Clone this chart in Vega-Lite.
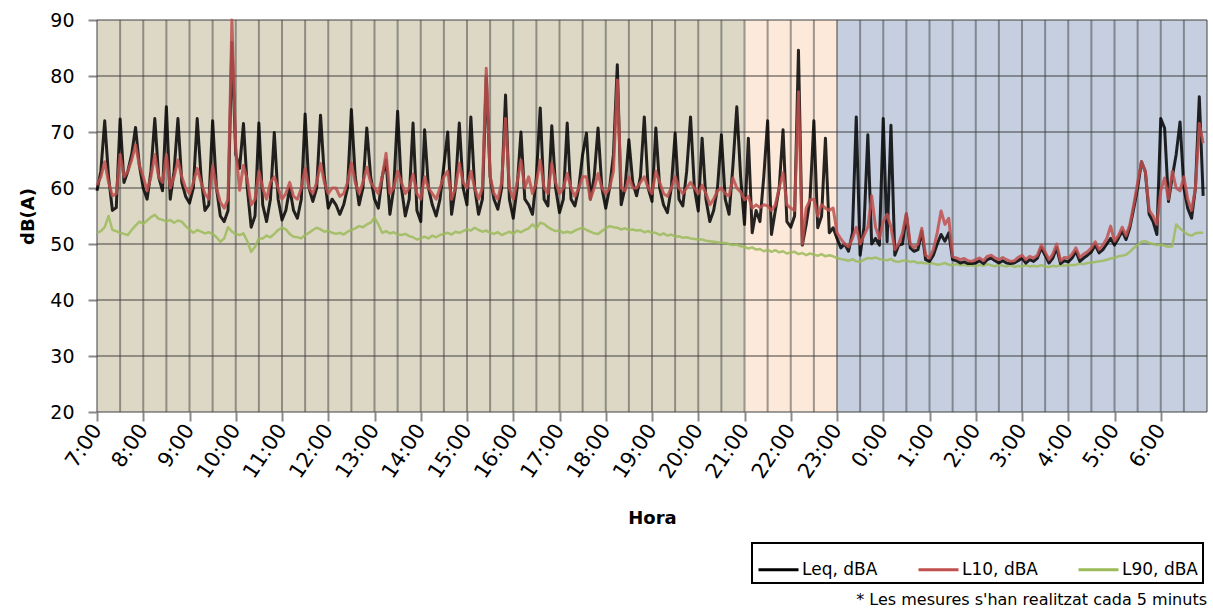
{
"$schema": "https://vega.github.io/schema/vega-lite/v6.json",
"width": 1110, "height": 392,
"autosize": {"type": "none"},
"padding": {"left": 97, "top": 20, "right": 6, "bottom": 199},
"background": "white",
"config": {"view": {"stroke": null}, "font": "DejaVu Sans",
 "axis": {"labelFont": "DejaVu Sans", "titleFont": "DejaVu Sans", "labelColor": "#000000", "titleColor": "#000000", "domain": false, "grid": false, "tickColor": "#8a8a8a", "tickWidth": 2, "labelOverlap": false}},
"title": {"text": "* Les mesures s'han realitzat cada 5 minuts", "orient": "bottom", "anchor": "end", "frame": "group", "font": "DejaVu Sans", "fontSize": 16, "fontWeight": "normal", "color": "#000000", "offset": 8},
"datasets": {
 "periods": [{"start": 0, "end": 840, "period": "dia"}, {"start": 840, "end": 960, "period": "vespre"}, {"start": 960, "end": 1440, "period": "nit"}],
 "vgrid": [{"m":0},{"m":30},{"m":60},{"m":90},{"m":120},{"m":150},{"m":180},{"m":210},{"m":240},{"m":270},{"m":300},{"m":330},{"m":360},{"m":390},{"m":420},{"m":450},{"m":480},{"m":510},{"m":540},{"m":570},{"m":600},{"m":630},{"m":660},{"m":690},{"m":720},{"m":750},{"m":780},{"m":810},{"m":840},{"m":870},{"m":900},{"m":930},{"m":960},{"m":990},{"m":1020},{"m":1050},{"m":1080},{"m":1110},{"m":1140},{"m":1170},{"m":1200},{"m":1230},{"m":1260},{"m":1290},{"m":1320},{"m":1350},{"m":1380},{"m":1410},{"m":1440}],
 "hgrid": [{"v":20},{"v":30},{"v":40},{"v":50},{"v":60},{"v":70},{"v":80},{"v":90}],
 "noise": [
{"m":0,"Leq":59.5,"L10":60.5,"L90":52},
{"m":5,"Leq":63,"L10":62,"L90":52.3},
{"m":10,"Leq":72,"L10":64.7,"L90":53},
{"m":15,"Leq":62,"L10":61,"L90":55},
{"m":20,"Leq":56,"L10":58.6,"L90":52.5},
{"m":25,"Leq":56.5,"L10":59,"L90":52.3},
{"m":30,"Leq":72.3,"L10":66,"L90":52},
{"m":35,"Leq":61,"L10":62,"L90":51.8},
{"m":40,"Leq":63,"L10":63,"L90":51.6},
{"m":45,"Leq":66,"L10":65,"L90":52.5},
{"m":50,"Leq":70.8,"L10":67.7,"L90":53.3},
{"m":55,"Leq":64,"L10":64,"L90":54},
{"m":60,"Leq":60,"L10":62,"L90":53.6},
{"m":65,"Leq":58,"L10":59.5,"L90":54.2},
{"m":70,"Leq":63,"L10":62,"L90":54.8},
{"m":75,"Leq":72.4,"L10":66,"L90":55.2},
{"m":80,"Leq":62,"L10":62,"L90":54.5},
{"m":85,"Leq":59.5,"L10":61,"L90":54.3},
{"m":90,"Leq":74.5,"L10":66,"L90":54},
{"m":95,"Leq":58,"L10":60,"L90":54.3},
{"m":100,"Leq":63,"L10":62,"L90":53.8},
{"m":105,"Leq":72.4,"L10":65,"L90":54.2},
{"m":110,"Leq":61,"L10":62,"L90":54},
{"m":115,"Leq":58.5,"L10":60,"L90":53.2},
{"m":120,"Leq":57.3,"L10":59,"L90":52.6},
{"m":125,"Leq":60,"L10":61,"L90":52},
{"m":130,"Leq":72.4,"L10":63.5,"L90":52.5},
{"m":135,"Leq":62,"L10":61,"L90":52.2},
{"m":140,"Leq":56,"L10":59,"L90":51.9},
{"m":145,"Leq":57,"L10":58,"L90":52.1},
{"m":150,"Leq":72,"L10":64,"L90":51.8},
{"m":155,"Leq":60,"L10":60,"L90":51.2},
{"m":160,"Leq":55,"L10":57.5,"L90":50.4},
{"m":165,"Leq":54,"L10":56.4,"L90":51},
{"m":170,"Leq":56,"L10":58,"L90":53},
{"m":175,"Leq":86,"L10":90,"L90":52.2},
{"m":180,"Leq":66,"L10":67,"L90":51.8},
{"m":185,"Leq":63.5,"L10":59.6,"L90":51.6},
{"m":190,"Leq":71.5,"L10":64,"L90":51.9},
{"m":195,"Leq":60,"L10":61.5,"L90":50.5},
{"m":200,"Leq":53,"L10":57,"L90":48.6},
{"m":205,"Leq":55,"L10":58,"L90":49.5},
{"m":210,"Leq":71.6,"L10":63,"L90":51},
{"m":215,"Leq":57,"L10":60,"L90":51},
{"m":220,"Leq":54,"L10":58,"L90":51.5},
{"m":225,"Leq":58,"L10":61,"L90":51.2},
{"m":230,"Leq":69.9,"L10":62,"L90":51.8},
{"m":235,"Leq":58,"L10":60,"L90":52.5},
{"m":240,"Leq":54.3,"L10":58,"L90":52.9},
{"m":245,"Leq":56,"L10":59,"L90":52.6},
{"m":250,"Leq":60,"L10":61,"L90":51.8},
{"m":255,"Leq":56,"L10":58.5,"L90":51.3},
{"m":260,"Leq":54.6,"L10":58,"L90":51.2},
{"m":265,"Leq":58,"L10":60,"L90":51},
{"m":270,"Leq":73.2,"L10":63.5,"L90":51.6},
{"m":275,"Leq":60,"L10":60,"L90":52},
{"m":280,"Leq":57.6,"L10":59,"L90":52.5},
{"m":285,"Leq":60,"L10":61,"L90":52.9},
{"m":290,"Leq":73,"L10":64.4,"L90":52.6},
{"m":295,"Leq":62,"L10":61,"L90":52.2},
{"m":300,"Leq":56.4,"L10":59,"L90":52.4},
{"m":305,"Leq":58,"L10":60,"L90":52},
{"m":310,"Leq":57,"L10":60,"L90":51.8},
{"m":315,"Leq":55.3,"L10":58.5,"L90":52},
{"m":320,"Leq":57,"L10":59,"L90":51.7},
{"m":325,"Leq":60,"L10":61,"L90":52.2},
{"m":330,"Leq":74,"L10":64.5,"L90":52.5},
{"m":335,"Leq":62,"L10":61,"L90":52.8},
{"m":340,"Leq":57,"L10":59,"L90":53.2},
{"m":345,"Leq":60,"L10":61,"L90":53},
{"m":350,"Leq":70.7,"L10":63.7,"L90":53.5},
{"m":355,"Leq":62,"L10":61,"L90":53.8},
{"m":360,"Leq":58,"L10":60,"L90":54.7},
{"m":365,"Leq":56.4,"L10":59,"L90":53.5},
{"m":370,"Leq":62,"L10":62,"L90":52},
{"m":375,"Leq":65,"L10":66.2,"L90":52.3},
{"m":380,"Leq":55.3,"L10":59,"L90":51.9},
{"m":385,"Leq":60,"L10":60,"L90":52.1},
{"m":390,"Leq":73.7,"L10":63,"L90":51.7},
{"m":395,"Leq":60,"L10":61,"L90":51.6},
{"m":400,"Leq":55,"L10":59,"L90":51.8},
{"m":405,"Leq":58,"L10":60,"L90":51.4},
{"m":410,"Leq":71.6,"L10":62.5,"L90":51.2},
{"m":415,"Leq":56,"L10":59,"L90":50.8},
{"m":420,"Leq":54,"L10":58,"L90":51},
{"m":425,"Leq":70.4,"L10":62,"L90":51.3},
{"m":430,"Leq":60,"L10":60,"L90":51},
{"m":435,"Leq":57,"L10":59,"L90":51.5},
{"m":440,"Leq":55,"L10":58,"L90":51.2},
{"m":445,"Leq":58,"L10":60,"L90":51.6},
{"m":450,"Leq":64,"L10":62,"L90":51.8},
{"m":455,"Leq":70,"L10":63,"L90":52},
{"m":460,"Leq":55.3,"L10":58,"L90":51.7},
{"m":465,"Leq":60,"L10":60,"L90":52.2},
{"m":470,"Leq":71.6,"L10":64.4,"L90":52},
{"m":475,"Leq":60,"L10":61,"L90":52.3},
{"m":480,"Leq":57,"L10":60,"L90":52.6},
{"m":485,"Leq":72.7,"L10":63,"L90":52.4},
{"m":490,"Leq":60,"L10":60,"L90":52.9},
{"m":495,"Leq":55.3,"L10":58,"L90":52.5},
{"m":500,"Leq":58,"L10":60,"L90":52.2},
{"m":505,"Leq":80,"L10":81.4,"L90":52.4},
{"m":510,"Leq":62,"L10":62,"L90":52},
{"m":515,"Leq":58,"L10":59,"L90":51.8},
{"m":520,"Leq":56.2,"L10":58,"L90":52.1},
{"m":525,"Leq":60,"L10":61,"L90":51.6},
{"m":530,"Leq":76.6,"L10":72.4,"L90":51.9},
{"m":535,"Leq":58,"L10":60,"L90":52.2},
{"m":540,"Leq":54.6,"L10":58,"L90":51.8},
{"m":545,"Leq":60,"L10":61,"L90":52.4},
{"m":550,"Leq":70,"L10":65,"L90":52.1},
{"m":555,"Leq":58,"L10":60,"L90":52.5},
{"m":560,"Leq":57,"L10":62,"L90":52.8},
{"m":565,"Leq":55.3,"L10":59,"L90":53.5},
{"m":570,"Leq":62,"L10":61,"L90":52.8},
{"m":575,"Leq":74.3,"L10":65,"L90":53.8},
{"m":580,"Leq":58,"L10":60,"L90":53.6},
{"m":585,"Leq":56.8,"L10":59,"L90":53},
{"m":590,"Leq":71.1,"L10":64.4,"L90":52.6},
{"m":595,"Leq":60,"L10":61,"L90":52.3},
{"m":600,"Leq":55.6,"L10":59,"L90":52.4},
{"m":605,"Leq":58,"L10":60,"L90":52},
{"m":610,"Leq":71.6,"L10":62.6,"L90":52.2},
{"m":615,"Leq":58,"L10":60,"L90":52},
{"m":620,"Leq":56.8,"L10":58.5,"L90":52.4},
{"m":625,"Leq":60,"L10":60,"L90":52.7},
{"m":630,"Leq":66,"L10":62,"L90":52.9},
{"m":635,"Leq":69.8,"L10":62,"L90":52.5},
{"m":640,"Leq":58,"L10":58,"L90":52.2},
{"m":645,"Leq":62,"L10":60,"L90":51.9},
{"m":650,"Leq":70.7,"L10":62.6,"L90":51.8},
{"m":655,"Leq":60,"L10":60,"L90":52.3},
{"m":660,"Leq":56.4,"L10":59,"L90":52.8},
{"m":665,"Leq":60,"L10":60,"L90":53.2},
{"m":670,"Leq":66,"L10":63,"L90":53},
{"m":675,"Leq":82,"L10":79.3,"L90":52.9},
{"m":680,"Leq":57,"L10":60,"L90":52.6},
{"m":685,"Leq":60,"L10":59.5,"L90":52.8},
{"m":690,"Leq":68.6,"L10":62,"L90":52.5},
{"m":695,"Leq":61,"L10":60,"L90":52.6},
{"m":700,"Leq":58.6,"L10":60,"L90":52.4},
{"m":705,"Leq":62,"L10":61,"L90":52.5},
{"m":710,"Leq":72.7,"L10":62,"L90":52.1},
{"m":715,"Leq":60,"L10":60,"L90":52.3},
{"m":720,"Leq":57.6,"L10":59,"L90":52},
{"m":725,"Leq":70.7,"L10":63,"L90":52},
{"m":730,"Leq":60,"L10":61,"L90":51.6},
{"m":735,"Leq":57,"L10":59,"L90":51.9},
{"m":740,"Leq":55.6,"L10":58.5,"L90":51.5},
{"m":745,"Leq":60,"L10":60,"L90":51.7},
{"m":750,"Leq":69.8,"L10":62,"L90":51.3},
{"m":755,"Leq":58,"L10":60,"L90":51.4},
{"m":760,"Leq":56.8,"L10":59,"L90":51.1},
{"m":765,"Leq":63,"L10":60,"L90":51.2},
{"m":770,"Leq":72.7,"L10":61,"L90":51},
{"m":775,"Leq":60,"L10":60,"L90":50.9},
{"m":780,"Leq":55.9,"L10":59,"L90":50.8},
{"m":785,"Leq":68.9,"L10":60.5,"L90":50.8},
{"m":790,"Leq":58,"L10":59,"L90":50.6},
{"m":795,"Leq":54,"L10":57,"L90":50.5},
{"m":800,"Leq":56,"L10":58,"L90":50.4},
{"m":805,"Leq":60,"L10":59.5,"L90":50.3},
{"m":810,"Leq":69.5,"L10":60,"L90":50.2},
{"m":815,"Leq":58,"L10":59,"L90":50.2},
{"m":820,"Leq":55.3,"L10":58.6,"L90":50},
{"m":825,"Leq":64,"L10":61.8,"L90":49.8},
{"m":830,"Leq":74.5,"L10":60,"L90":49.9},
{"m":835,"Leq":62,"L10":59.3,"L90":49.6},
{"m":840,"Leq":53.5,"L10":57.9,"L90":49.5},
{"m":845,"Leq":68.9,"L10":58.5,"L90":49.2},
{"m":850,"Leq":52,"L10":56.4,"L90":49.4},
{"m":855,"Leq":56,"L10":57,"L90":49},
{"m":860,"Leq":54,"L10":56.5,"L90":49.1},
{"m":865,"Leq":62,"L10":57,"L90":48.7},
{"m":870,"Leq":72,"L10":56.8,"L90":49},
{"m":875,"Leq":51.7,"L10":56,"L90":48.6},
{"m":880,"Leq":56,"L10":57,"L90":48.9},
{"m":885,"Leq":60,"L10":60,"L90":48.5},
{"m":890,"Leq":70.4,"L10":62.7,"L90":48.7},
{"m":895,"Leq":54,"L10":57,"L90":48.3},
{"m":900,"Leq":53,"L10":56.4,"L90":48.5},
{"m":905,"Leq":55,"L10":56,"L90":48.6},
{"m":910,"Leq":84.6,"L10":77.2,"L90":48.2},
{"m":915,"Leq":49.8,"L10":50,"L90":48.4},
{"m":920,"Leq":53.5,"L10":56.4,"L90":48},
{"m":925,"Leq":58,"L10":57.9,"L90":48.3},
{"m":930,"Leq":72,"L10":58,"L90":48.1},
{"m":935,"Leq":52.9,"L10":55,"L90":47.9},
{"m":940,"Leq":55,"L10":57,"L90":48.2},
{"m":945,"Leq":68.9,"L10":56.4,"L90":47.8},
{"m":950,"Leq":52,"L10":56,"L90":48},
{"m":955,"Leq":52.9,"L10":56.4,"L90":47.8},
{"m":960,"Leq":51,"L10":52,"L90":47.5},
{"m":965,"Leq":49.3,"L10":50.9,"L90":47.3},
{"m":970,"Leq":50,"L10":50,"L90":47.2},
{"m":975,"Leq":48.7,"L10":49.5,"L90":47},
{"m":980,"Leq":52,"L10":51,"L90":47.3},
{"m":985,"Leq":72.7,"L10":53,"L90":46.9},
{"m":990,"Leq":48,"L10":50,"L90":46.8},
{"m":995,"Leq":53,"L10":51.5,"L90":47.2},
{"m":1000,"Leq":69.5,"L10":53,"L90":47.5},
{"m":1005,"Leq":50,"L10":58.6,"L90":47.4},
{"m":1010,"Leq":51,"L10":53,"L90":47.6},
{"m":1015,"Leq":49.8,"L10":51,"L90":47.3},
{"m":1020,"Leq":72.4,"L10":54,"L90":47.2},
{"m":1025,"Leq":50.4,"L10":55.3,"L90":47.1},
{"m":1030,"Leq":71.2,"L10":53,"L90":47.3},
{"m":1035,"Leq":48,"L10":49,"L90":46.9},
{"m":1040,"Leq":49.8,"L10":50,"L90":46.8},
{"m":1045,"Leq":50,"L10":52,"L90":47},
{"m":1050,"Leq":55.3,"L10":55.5,"L90":47.1},
{"m":1055,"Leq":49.3,"L10":50,"L90":46.8},
{"m":1060,"Leq":48.7,"L10":49.3,"L90":46.9},
{"m":1065,"Leq":49,"L10":50,"L90":46.6},
{"m":1070,"Leq":52.3,"L10":52.8,"L90":46.7},
{"m":1075,"Leq":47.2,"L10":48,"L90":46.5},
{"m":1080,"Leq":46.9,"L10":47.5,"L90":46.6},
{"m":1085,"Leq":48,"L10":49,"L90":46.5},
{"m":1090,"Leq":50,"L10":52,"L90":46.3},
{"m":1095,"Leq":51.7,"L10":55.9,"L90":46.4},
{"m":1100,"Leq":50.5,"L10":53.5,"L90":46.6},
{"m":1105,"Leq":52,"L10":54.6,"L90":46.3},
{"m":1110,"Leq":47.2,"L10":47.7,"L90":46.2},
{"m":1115,"Leq":47,"L10":47.5,"L90":46.4},
{"m":1120,"Leq":46.6,"L10":47.2,"L90":46.2},
{"m":1125,"Leq":46.8,"L10":47.4,"L90":46.3},
{"m":1130,"Leq":46.5,"L10":47,"L90":46.1},
{"m":1135,"Leq":46.5,"L10":46.9,"L90":46.2},
{"m":1140,"Leq":46.6,"L10":47.2,"L90":46},
{"m":1145,"Leq":47,"L10":47.5,"L90":46.3},
{"m":1150,"Leq":46.5,"L10":47,"L90":46.1},
{"m":1155,"Leq":47.2,"L10":47.8,"L90":46.4},
{"m":1160,"Leq":47.5,"L10":48,"L90":46.2},
{"m":1165,"Leq":47,"L10":47.5,"L90":46},
{"m":1170,"Leq":46.6,"L10":47.2,"L90":46.3},
{"m":1175,"Leq":47,"L10":47.6,"L90":46.1},
{"m":1180,"Leq":46.6,"L10":47.2,"L90":46},
{"m":1185,"Leq":46.5,"L10":46.9,"L90":46.2},
{"m":1190,"Leq":46.6,"L10":47,"L90":45.9},
{"m":1195,"Leq":47,"L10":47.6,"L90":46.1},
{"m":1200,"Leq":47.5,"L10":48,"L90":46},
{"m":1205,"Leq":46.6,"L10":47.2,"L90":46.2},
{"m":1210,"Leq":47.2,"L10":47.8,"L90":46},
{"m":1215,"Leq":46.9,"L10":47.5,"L90":46.1},
{"m":1220,"Leq":47.5,"L10":48,"L90":46},
{"m":1225,"Leq":49.3,"L10":49.8,"L90":46.2},
{"m":1230,"Leq":48,"L10":48.6,"L90":46},
{"m":1235,"Leq":46.6,"L10":47.2,"L90":45.9},
{"m":1240,"Leq":47.5,"L10":48.2,"L90":46.1},
{"m":1245,"Leq":49.3,"L10":50,"L90":46},
{"m":1250,"Leq":46.5,"L10":47,"L90":46.2},
{"m":1255,"Leq":47,"L10":47.6,"L90":46.1},
{"m":1260,"Leq":46.8,"L10":47.5,"L90":46.3},
{"m":1265,"Leq":47.5,"L10":48.2,"L90":46.2},
{"m":1270,"Leq":48.7,"L10":49.3,"L90":46.3},
{"m":1275,"Leq":46.9,"L10":47.6,"L90":46.5},
{"m":1280,"Leq":47.5,"L10":48.2,"L90":46.4},
{"m":1285,"Leq":48,"L10":48.6,"L90":46.6},
{"m":1290,"Leq":48.6,"L10":49.3,"L90":46.7},
{"m":1295,"Leq":49.8,"L10":50.4,"L90":46.8},
{"m":1300,"Leq":48.4,"L10":49,"L90":46.9},
{"m":1305,"Leq":49,"L10":49.8,"L90":47},
{"m":1310,"Leq":50,"L10":51,"L90":47.2},
{"m":1315,"Leq":51,"L10":53.2,"L90":47.4},
{"m":1320,"Leq":49.8,"L10":50.5,"L90":47.5},
{"m":1325,"Leq":51,"L10":51.5,"L90":47.8},
{"m":1330,"Leq":52.3,"L10":53,"L90":47.9},
{"m":1335,"Leq":50.8,"L10":51.5,"L90":48.1},
{"m":1340,"Leq":53,"L10":53.5,"L90":48.6},
{"m":1345,"Leq":56.4,"L10":57,"L90":49.3},
{"m":1350,"Leq":60,"L10":61,"L90":49.8},
{"m":1355,"Leq":64.7,"L10":64.7,"L90":50.4},
{"m":1360,"Leq":62.9,"L10":63,"L90":50.5},
{"m":1365,"Leq":55.3,"L10":56,"L90":50.2},
{"m":1370,"Leq":54,"L10":55,"L90":50},
{"m":1375,"Leq":51.7,"L10":53.5,"L90":49.8},
{"m":1380,"Leq":72.4,"L10":59.5,"L90":49.9},
{"m":1385,"Leq":70.7,"L10":61.8,"L90":49.7},
{"m":1390,"Leq":57.6,"L10":58,"L90":49.5},
{"m":1395,"Leq":62,"L10":63,"L90":49.6},
{"m":1400,"Leq":66,"L10":60,"L90":53.5},
{"m":1405,"Leq":71.8,"L10":59.5,"L90":52.8},
{"m":1410,"Leq":60,"L10":62,"L90":52.2},
{"m":1415,"Leq":56.4,"L10":58,"L90":51.7},
{"m":1420,"Leq":54.6,"L10":56,"L90":51.5},
{"m":1425,"Leq":60,"L10":60,"L90":51.9},
{"m":1430,"Leq":76.3,"L10":71.5,"L90":52},
{"m":1435,"Leq":58.6,"L10":68,"L90":52}
 ]
},
"layer": [
 {"data": {"name": "periods"}, "mark": {"type": "rect"},
  "encoding": {
   "x": {"field": "start", "type": "quantitative", "title": "Hora", "scale": {"domain": [0, 1440], "nice": false, "zero": false},
    "axis": {"values": [0,60,120,180,240,300,360,420,480,540,600,660,720,780,840,900,960,1020,1080,1140,1200,1260,1320,1380], "labelExpr": "((datum.value/60+7)%24) + ':00'", "labelAngle": -56, "labelFontSize": 21, "tickSize": 9, "labelPadding": 5, "titleFontSize": 18, "titleFontWeight": "bold", "titlePadding": 28}},
   "x2": {"field": "end"},
   "fill": {"field": "period", "type": "nominal", "scale": {"domain": ["dia", "vespre", "nit"], "range": ["#ddd8c6", "#fde9d9", "#c5cfe0"]}, "legend": null}
  }},
 {"data": {"name": "vgrid"}, "mark": {"type": "rule", "color": "#404040", "strokeOpacity": 0.5, "strokeWidth": 2},
  "encoding": {"x": {"field": "m", "type": "quantitative", "title": "Hora", "scale": {"domain": [0, 1440], "nice": false, "zero": false},
    "axis": {"values": [0,60,120,180,240,300,360,420,480,540,600,660,720,780,840,900,960,1020,1080,1140,1200,1260,1320,1380], "labelExpr": "((datum.value/60+7)%24) + ':00'", "labelAngle": -56, "labelFontSize": 21, "tickSize": 9, "labelPadding": 5, "titleFontSize": 18, "titleFontWeight": "bold", "titlePadding": 28}}}},
 {"data": {"name": "hgrid"}, "mark": {"type": "rule", "color": "#404040", "strokeOpacity": 0.5, "strokeWidth": 2},
  "encoding": {"y": {"field": "v", "type": "quantitative", "title": "dB(A)", "scale": {"domain": [20, 90], "nice": false, "zero": false},
   "axis": {"values": [20,30,40,50,60,70,80,90], "labelFontSize": 19, "tickSize": 9, "labelPadding": 14, "titleFontSize": 18, "titleFontWeight": "bold", "titlePadding": 12}}}},
 {"data": {"name": "noise"}, "mark": {"type": "line", "strokeWidth": 2.5, "strokeJoin": "round", "opacity": 0.85},
  "encoding": {
   "x": {"field": "m", "type": "quantitative", "title": "Hora", "scale": {"domain": [0, 1440], "nice": false, "zero": false},
    "axis": {"values": [0,60,120,180,240,300,360,420,480,540,600,660,720,780,840,900,960,1020,1080,1140,1200,1260,1320,1380], "labelExpr": "((datum.value/60+7)%24) + ':00'", "labelAngle": -56, "labelFontSize": 21, "tickSize": 9, "labelPadding": 5, "titleFontSize": 18, "titleFontWeight": "bold", "titlePadding": 28}},
   "y": {"field": "L90", "type": "quantitative", "title": "dB(A)", "scale": {"domain": [20, 90], "nice": false, "zero": false},
    "axis": {"values": [20,30,40,50,60,70,80,90], "labelFontSize": 19, "tickSize": 9, "labelPadding": 14, "titleFontSize": 18, "titleFontWeight": "bold", "titlePadding": 12}},
   "color": {"datum": "L90, dBA", "scale": {"domain": ["Leq, dBA", "L10, dBA", "L90, dBA"], "range": ["#000000", "#c0504d", "#9bbb59"]},
    "legend": {"orient": "none", "legendX": 655, "legendY": 523, "direction": "horizontal", "title": null, "strokeColor": "#000000", "fillColor": "#ffffff", "padding": 5, "labelFont": "DejaVu Sans", "labelFontSize": 17, "labelColor": "#000000", "symbolType": "stroke", "symbolSize": 1600, "symbolStrokeWidth": 3, "symbolOpacity": 1, "columnPadding": 34, "labelOffset": 2,
     "encode": {"legend": {"update": {"strokeWidth": {"value": 2}}}}}}}},
 {"data": {"name": "noise"}, "mark": {"type": "line", "strokeWidth": 3, "strokeJoin": "round", "opacity": 0.85},
  "encoding": {
   "x": {"field": "m", "type": "quantitative", "title": "Hora", "scale": {"domain": [0, 1440], "nice": false, "zero": false},
    "axis": {"values": [0,60,120,180,240,300,360,420,480,540,600,660,720,780,840,900,960,1020,1080,1140,1200,1260,1320,1380], "labelExpr": "((datum.value/60+7)%24) + ':00'", "labelAngle": -56, "labelFontSize": 21, "tickSize": 9, "labelPadding": 5, "titleFontSize": 18, "titleFontWeight": "bold", "titlePadding": 28}},
   "y": {"field": "Leq", "type": "quantitative", "title": "dB(A)", "scale": {"domain": [20, 90], "nice": false, "zero": false},
    "axis": {"values": [20,30,40,50,60,70,80,90], "labelFontSize": 19, "tickSize": 9, "labelPadding": 14, "titleFontSize": 18, "titleFontWeight": "bold", "titlePadding": 12}},
   "color": {"datum": "Leq, dBA"}}},
 {"data": {"name": "noise"}, "mark": {"type": "line", "strokeWidth": 3, "strokeJoin": "round", "opacity": 0.85},
  "encoding": {
   "x": {"field": "m", "type": "quantitative", "title": "Hora", "scale": {"domain": [0, 1440], "nice": false, "zero": false},
    "axis": {"values": [0,60,120,180,240,300,360,420,480,540,600,660,720,780,840,900,960,1020,1080,1140,1200,1260,1320,1380], "labelExpr": "((datum.value/60+7)%24) + ':00'", "labelAngle": -56, "labelFontSize": 21, "tickSize": 9, "labelPadding": 5, "titleFontSize": 18, "titleFontWeight": "bold", "titlePadding": 28}},
   "y": {"field": "L10", "type": "quantitative", "title": "dB(A)", "scale": {"domain": [20, 90], "nice": false, "zero": false},
    "axis": {"values": [20,30,40,50,60,70,80,90], "labelFontSize": 19, "tickSize": 9, "labelPadding": 14, "titleFontSize": 18, "titleFontWeight": "bold", "titlePadding": 12}},
   "color": {"datum": "L10, dBA"}}}
]
}
